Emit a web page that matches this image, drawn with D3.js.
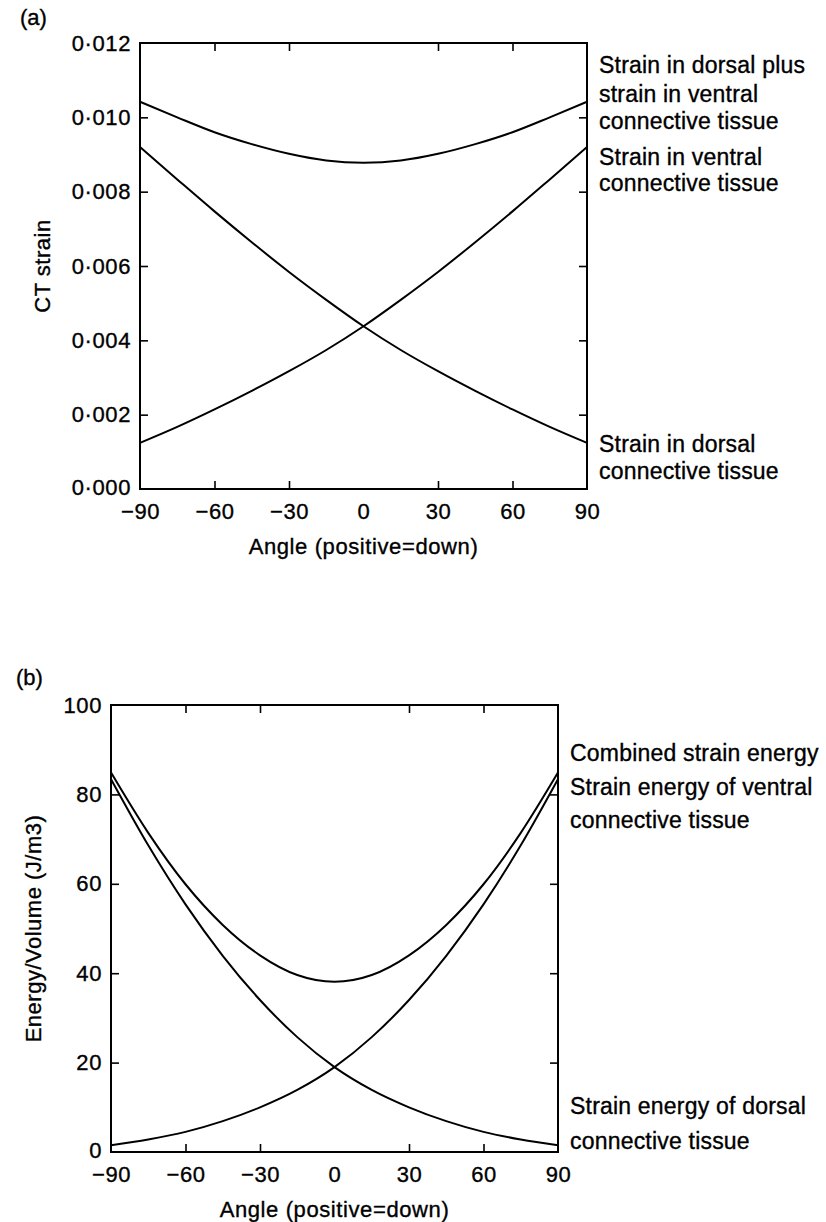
<!DOCTYPE html>
<html>
<head>
<meta charset="utf-8">
<script src="https://cdn.jsdelivr.net/npm/d3@7"></script>
<style>
  body { margin: 0; background: #fff; }
  svg text { font-family: "Liberation Sans", Arial, Helvetica, sans-serif; fill: #000; stroke: #000; stroke-width: 0.35px; }
</style>
</head>
<body>
<div id="chart"></div>
<script>
// Angle (positive=down), degrees
const angles = [-90, -75, -60, -45, -30, -15, 0, 15, 30, 45, 60, 75, 90];

// (a) connective tissue strain
const strainDorsal   = [0.00920, 0.00833, 0.00747, 0.00664, 0.00584, 0.00509, 0.00438, 0.00374, 0.00317, 0.00264, 0.00214, 0.00167, 0.00124];
const strainVentral  = [0.00124, 0.00167, 0.00214, 0.00264, 0.00317, 0.00374, 0.00438, 0.00509, 0.00584, 0.00664, 0.00747, 0.00833, 0.00920];
const strainCombined = [0.01042, 0.01000, 0.00960, 0.00928, 0.00902, 0.00884, 0.00878, 0.00884, 0.00902, 0.00928, 0.00960, 0.01000, 0.01042];

// (b) strain energy per volume (J/m3)
const energyDorsal   = [83.4, 68.6, 55.4, 43.9, 34.0, 25.7, 19.0, 13.9, 10.0, 6.9, 4.5, 2.8, 1.5];
const energyVentral  = [1.5, 2.8, 4.5, 6.9, 10.0, 13.9, 19.0, 25.7, 34.0, 43.9, 55.4, 68.6, 83.4];
const energyCombined = [84.9, 71.4, 59.9, 50.8, 44.0, 39.6, 38.1, 39.6, 44.0, 50.8, 59.9, 71.4, 84.9];

const angleTicks = [-90, -60, -30, 0, 30, 60, 90];
const strainTicks = [0, 0.002, 0.004, 0.006, 0.008, 0.010, 0.012];
const energyTicks = [0, 20, 40, 60, 80, 100];

const width = 826, height = 1222;
const svg = d3.select("#chart").append("svg")
    .attr("width", width)
    .attr("height", height);

const fontSize = 23;

function drawPanel(p) {
    const x = d3.scaleLinear().domain([-90, 90]).range([p.left, p.right]);
    const y = d3.scaleLinear().domain(p.yDomain).range([p.bottom, p.top]);
    const g = svg.append("g");

    // ticks on all four sides, pointing inward
    g.append("g")
        .attr("transform", `translate(0,${p.bottom})`)
        .call(d3.axisBottom(x).tickValues(angleTicks).tickSizeInner(-8).tickSizeOuter(0)
            .tickPadding(14).tickFormat(d => d < 0 ? "\u2212" + Math.abs(d) : d));
    g.append("g")
        .attr("transform", `translate(0,${p.top})`)
        .call(d3.axisTop(x).tickValues(angleTicks).tickSizeInner(-8).tickSizeOuter(0).tickFormat(""));
    const yAxis = g.append("g")
        .attr("transform", `translate(${p.left},0)`)
        .call(d3.axisLeft(y).tickValues(p.yTicks).tickSizeInner(-8).tickSizeOuter(0)
            .tickPadding(9).tickFormat(p.yFormat));
    g.append("g")
        .attr("transform", `translate(${p.right},0)`)
        .call(d3.axisRight(y).tickValues(p.yTicks).tickSizeInner(-8).tickSizeOuter(0).tickFormat(""));

    g.selectAll(".domain").remove();
    g.selectAll(".tick line").attr("stroke", "#000").attr("stroke-width", 1.6);
    g.selectAll(".tick text")
        .attr("font-size", fontSize - 1)
        .style("letter-spacing", "0.6px")
        .attr("fill", "#000");
    // the zero label of the y axis sits a touch above the corner
    yAxis.selectAll(".tick text").filter(d => d === p.yDomain[0])
        .attr("dy", "0.25em");
    // hide end ticks that sit on the frame
    g.selectAll(".tick line").filter(d => d === -90 || d === 90 || d === p.yDomain[0] || d === p.yDomain[1])
        .attr("stroke", "none");

    // frame
    g.append("rect")
        .attr("x", p.left).attr("y", p.top)
        .attr("width", p.right - p.left).attr("height", p.bottom - p.top)
        .attr("fill", "none").attr("stroke", "#000").attr("stroke-width", 2);

    const line = d3.line()
        .x((d, i) => x(angles[i]))
        .y(d => y(d))
        .curve(d3.curveMonotoneX);

    g.selectAll(".curve")
        .data(p.series)
        .join("path")
        .attr("class", "curve")
        .attr("d", d => line(d))
        .attr("fill", "none")
        .attr("stroke", "#000")
        .attr("stroke-width", 2);

    // axis titles
    g.append("text")
        .attr("x", (p.left + p.right) / 2)
        .attr("y", p.bottom + 57)
        .attr("dy", "0.35em")
        .attr("text-anchor", "middle")
        .attr("font-size", fontSize - 1)
        .style("letter-spacing", "0.6px")
        .text("Angle (positive=down)");

    g.append("text")
        .attr("transform", `translate(${p.yTitleX},${(p.top + p.bottom) / 2}) rotate(-90)`)
        .attr("dy", "0.35em")
        .attr("text-anchor", "middle")
        .attr("font-size", fontSize - 1)
        .style("letter-spacing", "0.5px")
        .text(p.yTitle);

    g.append("text")
        .attr("x", p.tagX)
        .attr("y", p.tagY)
        .attr("dy", "0.35em")
        .attr("font-size", fontSize - 1)
        .text(p.tag);

    // curve labels on the right
    g.selectAll(".label")
        .data(p.labels)
        .join("text")
        .attr("class", "label")
        .attr("x", p.right + 12)
        .attr("y", d => d.y)
        .attr("dy", "0.35em")
        .attr("font-size", fontSize)
        .style("letter-spacing", "0.2px")
        .text(d => d.text);
}

drawPanel({
    left: 140, right: 587, top: 43, bottom: 489,
    yDomain: [0, 0.012], yTicks: strainTicks,
    yFormat: d => d3.format(".3f")(d).replace(".", "\u00b7"),
    series: [strainCombined, strainDorsal, strainVentral],
    yTitle: "CT strain", yTitleX: 42,
    tag: "(a)", tagX: 20, tagY: 17,
    labels: [
        { text: "Strain in dorsal plus", y: 65 },
        { text: "strain in ventral", y: 94 },
        { text: "connective tissue", y: 121 },
        { text: "Strain in ventral", y: 157 },
        { text: "connective tissue", y: 183 },
        { text: "Strain in dorsal", y: 444 },
        { text: "connective tissue", y: 471 }
    ]
});

drawPanel({
    left: 111, right: 558, top: 705, bottom: 1152,
    yDomain: [0, 100], yTicks: energyTicks,
    yFormat: d3.format("d"),
    series: [energyCombined, energyDorsal, energyVentral],
    yTitle: "Energy/Volume (J/m3)", yTitleX: 33,
    tag: "(b)", tagX: 16, tagY: 677,
    labels: [
        { text: "Combined strain energy", y: 753 },
        { text: "Strain energy of ventral", y: 787 },
        { text: "connective tissue", y: 820 },
        { text: "Strain energy of dorsal", y: 1106 },
        { text: "connective tissue", y: 1141 }
    ]
});
</script>
</body>
</html>
